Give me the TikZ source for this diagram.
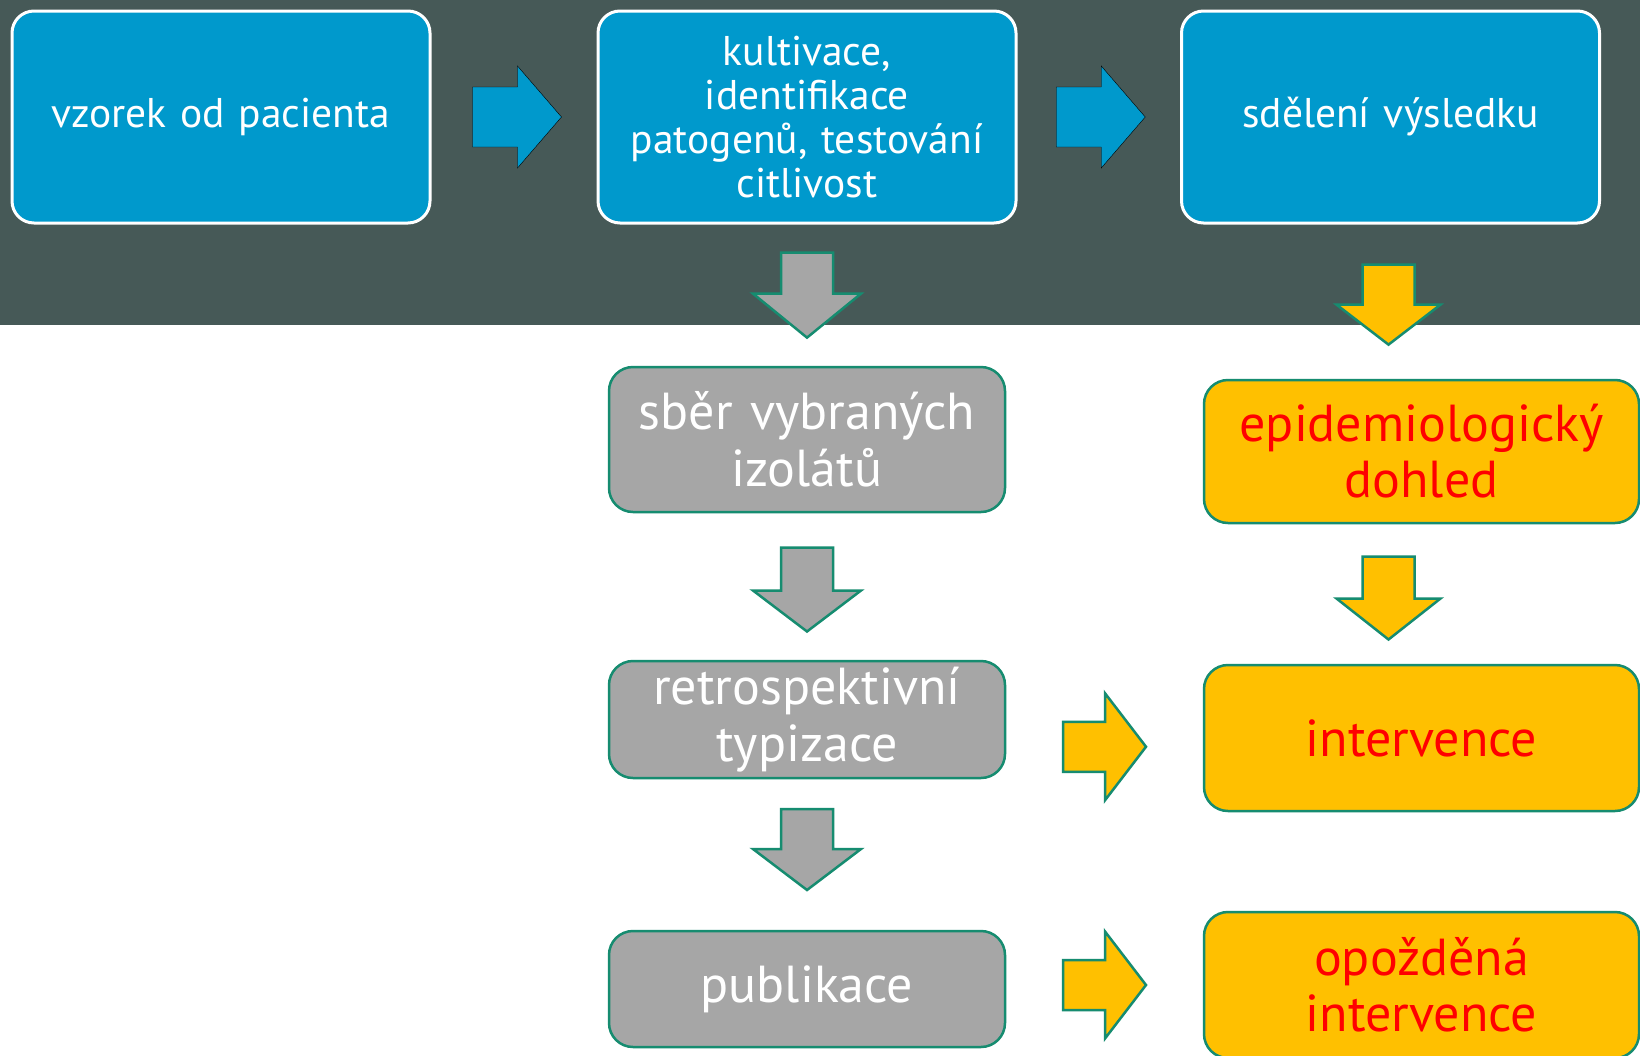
\documentclass[tikz,border=0pt]{standalone}
\usepackage{fontspec}
\setmainfont{PT Sans}
\usetikzlibrary{calc}
\definecolor{pozadi}{RGB}{70,89,87}
\definecolor{modra}{RGB}{0,153,204}
\definecolor{seda}{RGB}{166,166,166}
\definecolor{zluta}{RGB}{255,192,0}
\definecolor{okraj}{RGB}{22,140,112}
\definecolor{cervena}{RGB}{255,0,0}
\tikzset{
  modrybox/.style={draw=white, line width=3pt, fill=modra, rounded corners=22pt,
    minimum width=418pt, minimum height=212pt, text width=400pt, align=center,
    text=white, font=\fontsize{41.5}{44}\selectfont},
  sedybox/.style={draw=okraj, line width=2.5pt, fill=seda, rounded corners=24pt,
    minimum width=396pt, text width=380pt, align=center,
    text=white, font=\fontsize{52}{57}\selectfont},
  zlutybox/.style={draw=okraj, line width=2.5pt, fill=zluta, rounded corners=24pt,
    minimum width=435pt, minimum height=146pt, text width=420pt, align=center,
    text=cervena, font=\fontsize{52}{56}\selectfont},
  modrasipka/.style={fill=modra},
  sedasipka/.style={draw=okraj, line width=2.5pt, fill=seda},
  zlutasipka/.style={draw=okraj, line width=2.5pt, fill=zluta},
}
% sipka doprava: styl, pul delky, pul sirky tela, pul sirky hlavy, delka hlavy
\newcommand{\sipkatikz}[5]{
  \draw[#1] (-#2,-#3) -- (#2-#5,-#3) -- (#2-#5,-#4) -- (#2,0)
    -- (#2-#5,#4) -- (#2-#5,#3) -- (-#2,#3) -- cycle;
}
\begin{document}
\begin{tikzpicture}[x=1pt, y=-1pt] % {{{
\clip (0,0) rectangle (1640,1055);
\fill[white] (0,0) rectangle (1640,1055);
\fill[pozadi] (0,0) rectangle (1640,325);
% horni rada {{{
\node[modrybox] (vzorek) at (221,117) {vzorek od pacienta};
\node[modrybox] (kultivace) at (807,117) {kultivace,\\ identifikace\\ patogenů, testování\\ citlivost};
\node[modrybox] (sdeleni) at (1390.5,117) {sdělení výsledku};
% }}}
% seda vetev {{{
\node[sedybox, minimum height=145pt] (sber) at (807,439.5) {sběr vybraných\\ izolátů};
\node[sedybox, minimum height=117pt] (retro) at (807,719.5) {retrospektivní\\ typizace};
\node[sedybox, minimum height=116pt] (publikace) at (807,989) {publikace};
% }}}
% zluta vetev {{{
\node[zlutybox, minimum height=143pt] (dohled) at (1421.5,451.5) {epidemiologický\\ dohled};
\node[zlutybox] (intervence) at (1421.5,738) {intervence};
\node[zlutybox] (opozdena) at (1421.5,985) {opožděná\\ intervence};
% }}}
% sipky {{{
\begin{scope}[shift={($(vzorek.east)!0.5!(kultivace.west)+(3,0)$)}] \sipkatikz{modrasipka}{44.5}{30}{51}{44} \end{scope}
\begin{scope}[shift={($(kultivace.east)!0.5!(sdeleni.west)+(2,0)$)}] \sipkatikz{modrasipka}{44.5}{30}{51}{44} \end{scope}
\begin{scope}[shift={($(kultivace.south)!0.5!(sber.north)$)}, rotate=-90] \sipkatikz{sedasipka}{42.5}{26}{54}{44} \end{scope}
\begin{scope}[shift={($(sber.south)!0.5!(retro.north)+(0,3)$)}, rotate=-90] \sipkatikz{sedasipka}{42}{26}{54}{41} \end{scope}
\begin{scope}[shift={($(retro.south)!0.5!(publikace.north)+(0,-5)$)}, rotate=-90] \sipkatikz{sedasipka}{40.5}{26}{54}{41} \end{scope}
\begin{scope}[shift={($(sdeleni.south)!0.5!(sdeleni.south |- dohled.north)+(-2,3)$)}, rotate=-90] \sipkatikz{zlutasipka}{40}{26}{52}{40} \end{scope}
\begin{scope}[shift={($(sdeleni.south |- dohled.south)!0.5!(sdeleni.south |- intervence.north)+(-2,4)$)}, rotate=-90] \sipkatikz{zlutasipka}{41.5}{26}{52}{41} \end{scope}
\begin{scope}[shift={($(retro.east)!0.5!(intervence.west)+(0,18)$)}] \sipkatikz{zlutasipka}{41.5}{25}{53.5}{41} \end{scope}
\begin{scope}[shift={($(publikace.east)!0.5!(opozdena.west)+(0,-2)$)}] \sipkatikz{zlutasipka}{41.5}{25}{53.5}{41} \end{scope}
% }}}
\end{tikzpicture} % }}}
\end{document}
